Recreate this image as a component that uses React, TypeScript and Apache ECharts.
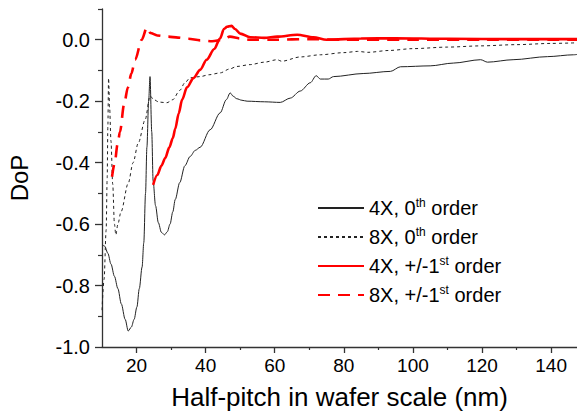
import React, { useEffect, useRef } from "react";
import * as echarts from "echarts";

// ---- data ----
const seriesNames = ["4X, 0th order", "8X, 0th order", "4X, +/-1st order", "8X, +/-1st order"];
const legendRich = ["4X, 0{sup|th} order", "8X, 0{sup|th} order", "4X, +/-1{sup|st} order", "8X, +/-1{sup|st} order"];

const x4x0 = [10.2, 10.8, 11.7, 12.6, 13.6, 14.6, 15.6, 16.7, 17.6, 18.5, 19.3, 20.1, 20.8, 21.6, 22.1, 22.6, 23.0, 23.5, 23.9, 24.4, 24.8, 25.5, 26.3, 27.2, 28.1, 28.9, 29.7, 30.5, 31.2, 32.5, 34, 35.5, 37, 38.4, 41.3, 44.2, 46, 47.1, 48, 49, 50.5, 52, 57, 61.6, 64.5, 67.4, 70.3, 72, 73.2, 75.5, 77, 85.6, 93.5, 96.4, 105, 111.7, 119.6, 121.6, 129, 139, 146.5, 147.5];
const y4x0 = [-0.668, -0.672, -0.695, -0.73, -0.77, -0.81, -0.86, -0.91, -0.948, -0.935, -0.91, -0.87, -0.81, -0.74, -0.66, -0.5, -0.35, -0.2, -0.12, -0.3, -0.46, -0.54, -0.595, -0.627, -0.635, -0.625, -0.6, -0.56, -0.52, -0.465, -0.41, -0.38, -0.36, -0.35, -0.293, -0.238, -0.195, -0.173, -0.184, -0.192, -0.197, -0.2, -0.202, -0.204, -0.19, -0.167, -0.14, -0.117, -0.128, -0.128, -0.12, -0.11, -0.103, -0.088, -0.085, -0.076, -0.065, -0.073, -0.065, -0.055, -0.049, -0.048];

const x8x0 = [10.0, 10.6, 11.2, 11.5, 11.7, 11.9, 12.2, 12.6, 13.1, 13.6, 14.0, 14.6, 15.5, 17.6, 19, 20.5, 22.5, 23.9, 25, 26.5, 28.8, 30.5, 32.5, 34, 35.5, 38.4, 41, 44.2, 47, 49, 52.9, 57, 60.7, 62, 67.4, 73.2, 80, 84, 87, 93, 100, 110, 119.6, 130, 140, 147.5];
const y8x0 = [-0.88, -0.78, -0.62, -0.45, -0.28, -0.125, -0.22, -0.33, -0.47, -0.6, -0.635, -0.6, -0.56, -0.467, -0.4, -0.336, -0.26, -0.183, -0.195, -0.203, -0.205, -0.195, -0.165, -0.14, -0.124, -0.12, -0.114, -0.108, -0.095, -0.087, -0.081, -0.073, -0.065, -0.07, -0.056, -0.049, -0.042, -0.038, -0.041, -0.035, -0.029, -0.024, -0.02, -0.016, -0.012, -0.01];

const x4x1 = [24.8, 26, 27.2, 28.3, 29.5, 30.5, 31.2, 32.2, 33.2, 34.6, 36.5, 38.4, 40.3, 42.5, 44.2, 45.3, 46.2, 47.5, 48.5, 50, 52.9, 57, 60.7, 66.5, 71.2, 75, 85, 95, 110, 130, 147.5];
const y4x1 = [-0.472, -0.44, -0.41, -0.385, -0.35, -0.32, -0.29, -0.24, -0.195, -0.155, -0.125, -0.098, -0.065, -0.03, 0.005, 0.035, 0.042, 0.045, 0.035, 0.02, 0.008, 0.006, 0.01, 0.016, 0.008, 0.0, 0.004, 0.005, 0.003, 0.002, 0.002];

const x8x1 = [12.9, 13.7, 14.5, 15.2, 16.4, 17.5, 18.5, 19.6, 21.5, 23, 24, 26, 29.1, 32, 35, 38.4, 41.9, 45, 47, 50, 52.9, 60, 70, 80, 100, 120, 147.5];
const y8x1 = [-0.446, -0.4, -0.34, -0.3, -0.21, -0.155, -0.11, -0.065, 0.0, 0.04, 0.022, 0.014, 0.01, 0.007, 0.003, -0.002, -0.005, 0.0, 0.01, 0.004, 0.0, 0.0, 0.002, 0.0, 0.0, 0.0, 0.0];

const xMajorTicks = [20, 40, 60, 80, 100, 120, 140];
const xMinorTicks = [30, 50, 70, 90, 110, 130];
const yMajorTicks = [-1.0, -0.8, -0.6, -0.4, -0.2, 0.0];
const yMinorTicks = [-0.9, -0.7, -0.5, -0.3, -0.1, 0.1];

const zip = (xs: number[], ys: number[]) => xs.map((x, i) => [x, ys[i]]);

const FONT = "'Liberation Sans', Arial, sans-serif";
const AXIS_COLOR = "#333";

export default function App() {
  const ref = useRef<HTMLDivElement>(null);
  useEffect(() => {
    if (!ref.current) return;
    const chart = echarts.init(ref.current, undefined, { renderer: "svg" });
    const mkX = (idx: number) => ({
      type: "value",
      gridIndex: 0,
      min: 10,
      max: 147.5,
      position: "bottom",
      splitLine: { show: false },
      axisLine: { show: idx === 0, onZero: false, lineStyle: { color: AXIS_COLOR, width: 1.3 } },
    });
    const option: any = {
      animation: false,
      backgroundColor: "#fff",
      textStyle: { fontFamily: FONT },
      grid: { left: 102, right: 0, top: 9, bottom: 71, containLabel: false, outerBoundsMode: "none" },
      legend: {
        left: 317,
        top: 197,
        padding: 0,
        orient: "vertical",
        itemWidth: 46,
        itemHeight: 14,
        itemGap: 7,
        data: seriesNames,
        itemStyle: { opacity: 0 },
        formatter: (name: string) => legendRich[seriesNames.indexOf(name)],
        textStyle: {
          fontFamily: FONT,
          fontSize: 20,
          color: "#000",
          lineHeight: 22,
          rich: {
            sup: { fontSize: 12, fontFamily: FONT, color: "#000", verticalAlign: "top", lineHeight: 12 },
          },
        },
      },
      xAxis: [
        {
          ...mkX(0),
          name: "Half-pitch in wafer scale (nm)",
          nameLocation: "middle",
          nameGap: 37,
          nameTextStyle: { fontSize: 26, color: "#000", fontFamily: FONT },
          axisTick: { show: true, inside: false, length: 6, customValues: xMajorTicks, lineStyle: { color: AXIS_COLOR, width: 1.3 } },
          axisLabel: { show: true, customValues: xMajorTicks, fontSize: 19, color: "#000", margin: 9, fontFamily: FONT },
        },
        {
          ...mkX(1),
          axisTick: { show: true, inside: false, length: 3, customValues: xMinorTicks, lineStyle: { color: AXIS_COLOR, width: 1.2 } },
          axisLabel: { show: false },
        },
      ],
      yAxis: [
        {
          type: "value",
          min: -1.0,
          max: 0.1,
          interval: 0.2,
          position: "left",
          name: "DoP",
          nameLocation: "middle",
          nameGap: 71,
          nameRotate: 90,
          nameTextStyle: { fontSize: 24, color: "#000", fontFamily: FONT },
          splitLine: { show: false },
          axisLine: { show: true, onZero: false, lineStyle: { color: AXIS_COLOR, width: 1.3 } },
          axisTick: { show: true, inside: false, length: 7, customValues: yMajorTicks, lineStyle: { color: AXIS_COLOR, width: 1.3 } },
          axisLabel: {
            show: true,
            customValues: yMajorTicks,
            fontSize: 20,
            color: "#000",
            margin: 12,
            fontFamily: FONT,
            formatter: (v: number) => v.toFixed(1),
          },
        },
        {
          type: "value",
          min: -1.0,
          max: 0.1,
          position: "left",
          splitLine: { show: false },
          axisLine: { show: false },
          axisTick: { show: true, inside: false, length: 4, customValues: yMinorTicks, lineStyle: { color: AXIS_COLOR, width: 1.2 } },
          axisLabel: { show: false },
        },
      ],
      series: [
        {
          name: seriesNames[0],
          type: "line",
          data: zip(x4x0, y4x0),
          symbol: "none",
          smooth: 0.3,
          smoothMonotone: "x",
          lineStyle: { color: "#222", width: 1 },
          itemStyle: { color: "#222" },
        },
        {
          name: seriesNames[1],
          type: "line",
          data: zip(x8x0, y8x0),
          symbol: "none",
          smooth: 0.3,
          smoothMonotone: "x",
          lineStyle: { color: "#222", width: 1, type: [3, 3] },
          itemStyle: { color: "#222" },
        },
        {
          name: seriesNames[2],
          type: "line",
          data: zip(x4x1, y4x1),
          symbol: "none",
          smooth: 0.3,
          smoothMonotone: "x",
          lineStyle: { color: "#ff0000", width: 2.6 },
          itemStyle: { color: "#ff0000" },
        },
        {
          name: seriesNames[3],
          type: "line",
          data: zip(x8x1, y8x1),
          symbol: "none",
          smooth: 0.3,
          smoothMonotone: "x",
          lineStyle: { color: "#ff0000", width: 2.6, type: [12, 8] },
          itemStyle: { color: "#ff0000" },
        },
      ],
    };
    chart.setOption(option);
    return () => chart.dispose();
  }, []);
  return <div ref={ref} style={{ position: "absolute", left: 0, top: 0, width: 577, height: 418 }} />;
}
